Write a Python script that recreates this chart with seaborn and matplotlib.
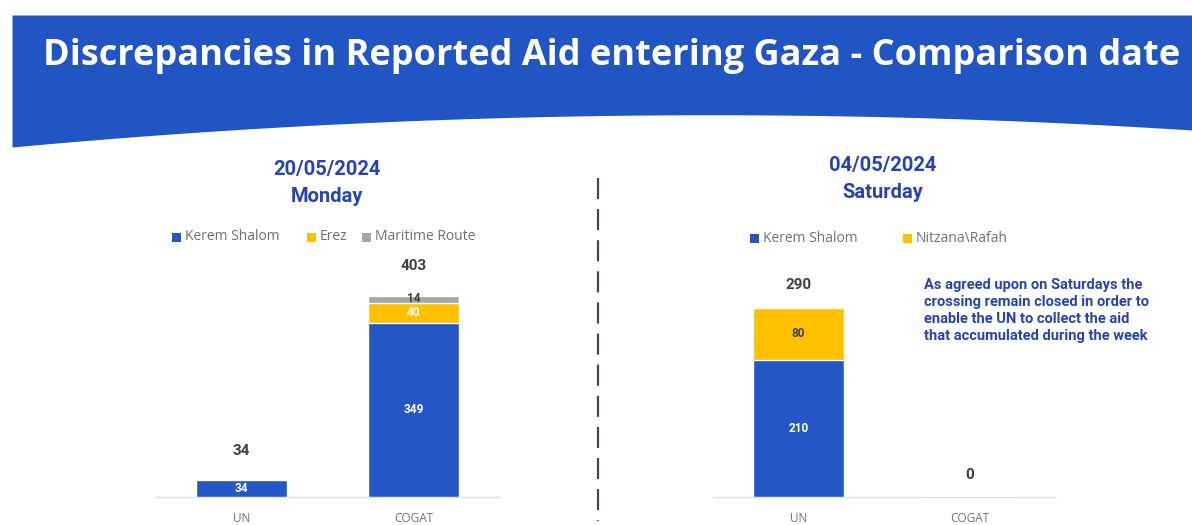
import numpy as np
import pandas as pd
import matplotlib.pyplot as plt
import seaborn as sns

# Data
categories = ["UN", "COGAT"]
mon_kerem = [34, 349]
mon_erez = [0, 40]
mon_maritime = [0, 14]
sat_kerem = [210, 0]
sat_nitzana = [80, 0]

BLUE = "#2456C6"
YELLOW = "#FFC000"
GREY = "#A6A6A6"
TXT_BLUE = "#2543B5"
DARK = "#404040"

sns.set_theme(style="white")
plt.rcParams['font.family'] = ['Roboto', 'DejaVu Sans']

fig = plt.figure(figsize=(11.92, 5.25), dpi=100)

# Banner with curved bottom
bg = fig.add_axes([0, 0, 1, 1])
bg.set_xlim(0, 1192)
bg.set_ylim(525, 0)
bg.axis("off")
xs = np.linspace(12, 1192, 300)
# quadratic curve through (12,147), (650,115), (1192,130)
coef = np.polyfit([12, 650, 1192], [147, 115, 130], 2)
bottom = np.polyval(coef, xs)
bg.fill_between(xs, 15, bottom, color="#2255C4", lw=0)
bg.text(612, 56, "Discrepancies in Reported Aid entering Gaza - Comparison date",
        color="white", fontsize=26, fontweight="bold", ha="center", va="center",
        family=["Open Sans", "DejaVu Sans"])

# Divider
bg.plot([598, 598], [178, 521], color="#3A4A5E", lw=1.6, dashes=(9.5, 4.5))

# Subtitles
for x, y, s in [(327, 170, "20/05/2024"), (327, 197, "Monday"),
                (883, 166, "04/05/2024"), (883, 193, "Saturday")]:
    bg.text(x, y, s, color=TXT_BLUE, fontsize=14.5, fontweight="bold", ha="center", va="center")

# Annotation
bg.text(924, 278, "As agreed upon on Saturdays the\ncrossing remain closed in order to\n"
        "enable the UN to collect the aid\nthat accumulated during the week",
        color=TXT_BLUE, fontsize=10.5, fontweight="bold", ha="left", va="top",
        linespacing=1.28, zorder=20)


def stacked(ax, layers, colors, ymax):
    # draw cumulative totals, tallest first
    cum = np.cumsum(np.array(layers), axis=0)
    for i in range(len(layers) - 1, -1, -1):
        df = pd.DataFrame({"cat": categories, "val": cum[i]})
        sns.barplot(data=df, x="cat", y="val", color=colors[i], width=0.53,
                    saturation=1, ax=ax, zorder=2 + (len(layers) - i))
    ax.set_facecolor("none")
    ax.set_xlim(-0.5, 1.5)
    ax.set_ylim(0, ymax)
    ax.set_xlabel("")
    ax.set_ylabel("")
    ax.set_yticks([])
    for s in ["top", "left", "right"]:
        ax.spines[s].set_visible(False)
    ax.spines["bottom"].set_color("#E0E0E0")
    ax.spines["bottom"].set_linewidth(1)
    ax.tick_params(axis="x", length=0, pad=11, labelsize=8.5, labelcolor="#707070")
    for lab in ax.get_xticklabels():
        lab.set_family(["Open Sans", "DejaVu Sans"])
    return cum


# Monday
ax1 = fig.add_axes([155 / 1192, 28 / 525, 345 / 1192, 250 / 525])
cum1 = stacked(ax1, [mon_kerem, mon_erez, mon_maritime], [BLUE, YELLOW, GREY], 500)
for j in range(2):
    ax1.annotate(str(cum1[-1][j]), (j, cum1[-1][j]), xytext=(0, 21), textcoords="offset points",
                 ha="center", va="center", fontsize=11, fontweight="bold", color=DARK)
ax1.text(0, mon_kerem[0] / 2, str(mon_kerem[0]), ha="center", va="center", color="white",
         fontsize=8.5, fontweight="bold", zorder=10)
ax1.text(1, mon_kerem[1] / 2, str(mon_kerem[1]), ha="center", va="center", color="white",
         fontsize=8.5, fontweight="bold", zorder=10)
ax1.text(1, mon_kerem[1] + mon_erez[1] / 2, str(mon_erez[1]), ha="center", va="center",
         color="white", fontsize=8.5, fontweight="bold", zorder=10)
ax1.text(1, cum1[1][1] + mon_maritime[1] / 2, str(mon_maritime[1]), ha="center", va="center",
         color=DARK, fontsize=8.5, fontweight="bold", zorder=10)

# Saturday
ax2 = fig.add_axes([713 / 1192, 28 / 525, 342 / 1192, 250 / 525])
cum2 = stacked(ax2, [sat_kerem, sat_nitzana], [BLUE, YELLOW], 383)
for j in range(2):
    ax2.annotate(str(cum2[-1][j]), (j, cum2[-1][j]), xytext=(0, 16), textcoords="offset points",
                 ha="center", va="center", fontsize=11, fontweight="bold", color=DARK)
ax2.text(0, sat_kerem[0] / 2, str(sat_kerem[0]), ha="center", va="center", color="white",
         fontsize=8.5, fontweight="bold", zorder=10)
ax2.text(0, sat_kerem[0] + sat_nitzana[0] / 2, str(sat_nitzana[0]), ha="center", va="center",
         color=DARK, fontsize=8.5, fontweight="bold", zorder=10)


# Legends
def legend_row(x0, y, items, gaps):
    x = x0
    for (label, col), gap in zip(items, gaps):
        bg.add_patch(plt.Rectangle((x, y - 4.5), 9, 9, color=col, lw=0))
        bg.text(x + 13, y, label, color="#707070", fontsize=10, va="center", ha="left",
                family=["Open Sans", "DejaVu Sans"])
        x += gap


legend_row(172, 237, [("Kerem Shalom", BLUE), ("Erez", YELLOW), ("Maritime Route", GREY)], [135, 55, 0])
legend_row(750, 238, [("Kerem Shalom", BLUE), ("Nitzana\\Rafah", YELLOW)], [153, 0])

fig.savefig("out.png", dpi=100)
